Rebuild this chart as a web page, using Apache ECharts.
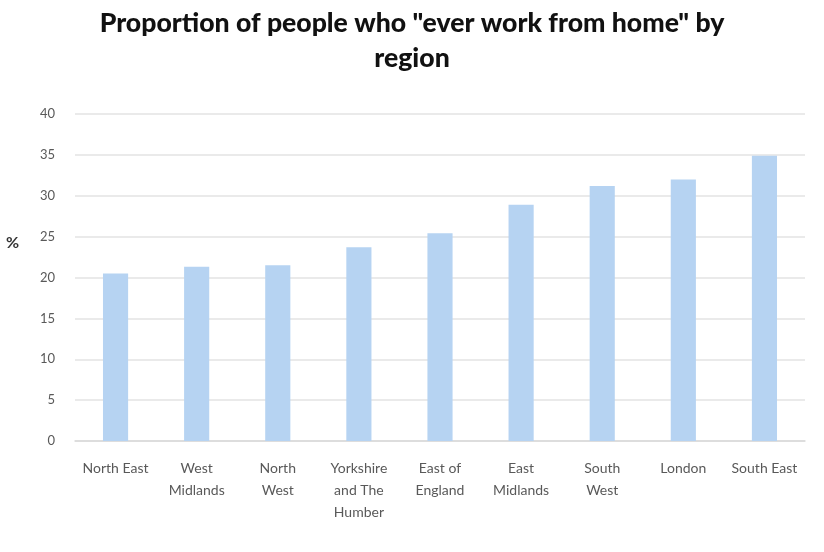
<!DOCTYPE html>
<html><head><meta charset="utf-8">
<script src="https://cdn.jsdelivr.net/npm/echarts@6/dist/echarts.min.js"></script>
<style>html,body{margin:0;padding:0;background:#fff}#c{width:824px;height:552px}</style>
</head><body><div id="c"></div>
<script>
const categories = ["North East","West\nMidlands","North\nWest","Yorkshire\nand The\nHumber","East of\nEngland","East\nMidlands","South\nWest","London","South East"];
const values = [20.5, 21.3, 21.5, 23.7, 25.4, 28.9, 31.2, 32.0, 34.9];
const yTicks = [0,5,10,15,20,25,30,35,40];
const chart = echarts.init(document.getElementById('c'));
chart.setOption({
  animation:false,
  title:{text:'Proportion of people who "ever work from home" by\nregion', left:'center', top:1,
    textStyle:{fontFamily:'Lato', fontWeight:900, fontSize:26.6, color:'#111', lineHeight:35}},
  graphic:[{type:'text', left:6, top:235, style:{text:'%', fontFamily:'Lato', fontWeight:'bold', fontSize:16, fill:'#333'}}],
  grid:{left:75, right:19, top:114, bottom:111},
  xAxis:{type:'category', data:categories,
    axisLine:{lineStyle:{color:'#d9d9d9', width:1.5}}, axisTick:{show:false},
    axisLabel:{interval:0, color:'#595959', fontFamily:'Lato', fontSize:14, lineHeight:22, margin:16}},
  yAxis:{type:'value', min:yTicks[0], max:yTicks[yTicks.length-1], interval:5,
    axisLine:{show:false}, axisTick:{show:false},
    axisLabel:{color:'#595959', fontFamily:'Lato', fontSize:13, margin:20},
    splitLine:{lineStyle:{color:'#e3e3e3', width:1.5}}},
  series:[{type:'bar', data:values, barWidth:'31%', itemStyle:{color:'#b6d3f2'}}]
});
</script></body></html>
